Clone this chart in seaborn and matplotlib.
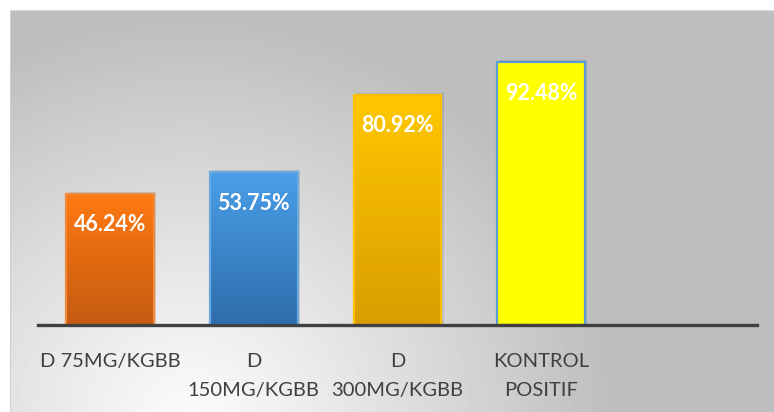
#!/usr/bin/env python3
import matplotlib
matplotlib.use("Agg")
import matplotlib.pyplot as plt
from matplotlib.colors import LinearSegmentedColormap
import seaborn as sns
import numpy as np
import pandas as pd

# data
categories = ["D 75MG/KGBB", "D\n150MG/KGBB", "D\n300MG/KGBB", "KONTROL\nPOSITIF"]
values = [46.24, 53.75, 80.92, 92.48]
labels = ["46.24%", "53.75%", "80.92%", "92.48%"]

# top colour, bottom colour, edge colour for each bar
tops = ["#ff7a12", "#4a9ee8", "#ffc800", "#ffff00"]
bottoms = ["#c55a11", "#2e6dab", "#da9d00", "#ffff00"]
edges = ["#f08a3c", "#6aa8e0", "#ffc000", "#5b9bd5"]

sns.set_theme(style="white")
plt.rcParams["font.family"] = ["Lato", "DejaVu Sans"]

W, H = 774, 412
fig = plt.figure(figsize=(W / 100, H / 100), dpi=100)
fig.patch.set_facecolor("white")

# background panel with soft radial gradient (light at bottom-left)
bg = fig.add_axes([10 / W, 0, 1 - 10 / W, 1 - 10 / H])
bg.set_axis_off()
gx, gy = np.meshgrid(np.arange(10, W), np.arange(10, H))
d = np.sqrt((gx - 190) ** 2 + ((gy - 420) * 1.05) ** 2)
t = np.clip(d / 420, 0, 1) ** 1.1
shade = 0.985 - (0.985 - 0.745) * t
bg.imshow(shade, cmap="gray", vmin=0, vmax=1, aspect="auto",
          extent=[0, 1, 0, 1], interpolation="bilinear")
bg.set_xlim(0, 1)
bg.set_ylim(0, 1)
bg.plot([0, 0], [0, 1], color="#cfcfcf", lw=1.5)
bg.plot([0, 1], [1, 1], color="#d6d6d6", lw=1)

# main axes: baseline at y=325 px from top, 5 category slots from x=38 to 757
base = H - 325
px_per_unit = 263 / 92.48
ax = fig.add_axes([38 / W, base / H, 719 / W, 100 * px_per_unit / H])
ax.patch.set_alpha(0)

df = pd.DataFrame({"cat": categories, "val": values})
sns.barplot(data=df, x="cat", y="val", ax=ax, width=0.61,
            palette=tops, hue="cat", legend=False, saturation=1)
ax.set_xlim(-0.5, 4.5)
ax.set_ylim(0, 100)

for i, p in enumerate(ax.patches):
    x0, w, h = p.get_x(), p.get_width(), p.get_height()
    cmap = LinearSegmentedColormap.from_list("g%d" % i, [bottoms[i], tops[i]])
    grad = np.linspace(0, 1, 128).reshape(-1, 1)
    # soft shadow
    ax.add_patch(plt.Rectangle((x0 + 0.015, 0), w, h + 0.6, color="black",
                               alpha=0.10, lw=0, zorder=1))
    im = ax.imshow(grad, cmap=cmap, aspect="auto", origin="lower",
                   extent=[x0, x0 + w, 0, h], zorder=2)
    im.set_clip_path(p)
    p.set_facecolor("none")
    p.set_edgecolor(edges[i])
    p.set_linewidth(1.6)
    p.set_zorder(3)
    ax.text(x0 + w / 2, h - 31 / px_per_unit, labels[i], color="white",
            fontsize=15.5, fontweight="bold", ha="center", va="center", zorder=4)

ax.set_xlim(-0.5, 4.5)
ax.set_ylim(0, 100)
ax.set_xlabel("")
ax.set_ylabel("")
ax.set_yticks([])
ax.tick_params(axis="x", length=0, pad=20, labelsize=14.5, labelcolor="#404040")
for lab in ax.get_xticklabels():
    lab.set_linespacing(1.85)
    lab.set_va("top")
for s in ["top", "right", "left"]:
    ax.spines[s].set_visible(False)
ax.spines["bottom"].set_color("#404040")
ax.spines["bottom"].set_linewidth(2.4)
ax.spines["bottom"].set_zorder(5)

fig.savefig("out.png", dpi=100)
